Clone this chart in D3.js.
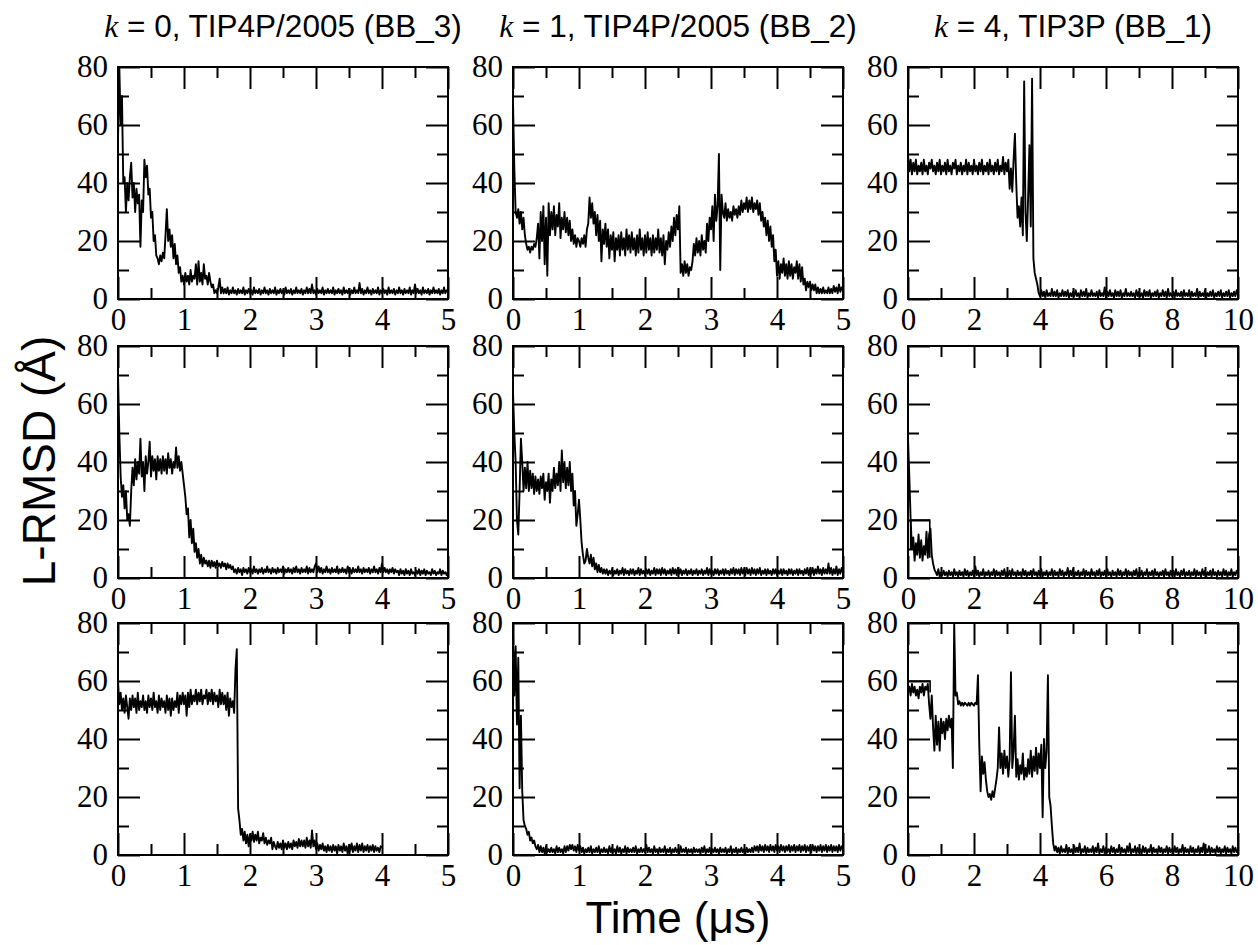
<!DOCTYPE html>
<html><head><meta charset="utf-8">
<script src="https://cdn.jsdelivr.net/npm/d3@7"></script>
<style>body{margin:0;background:#fff}</style>
</head><body>
<svg id="chart" width="1258" height="945"></svg>
<script>
// ---- column headers / axes ----
const colK = ["0", "1", "4"];
const colModel = [", TIP4P/2005 (BB_3)", ", TIP4P/2005 (BB_2)", ", TIP3P (BB_1)"];
const colTmax = [5, 5, 10];
const colDt = [0.02, 0.02, 0.04];           // sampling step of each column's series (µs)
const xTicks5 = [0, 1, 2, 3, 4, 5];
const xMinor5 = [0.5, 1.5, 2.5, 3.5, 4.5];
const xTicks10 = [0, 2, 4, 6, 8, 10];
const xMinor10 = [1, 3, 5, 7, 9];
const yTicks = [0, 20, 40, 60, 80];
const yMinor = [10, 30, 50, 70];
const yLabel = "L-RMSD (Å)";
const xLabel = "Time (μs)";

// ---- L-RMSD series (Å), row r, column c ----
const r1c1 = [
55,80,60,70,40,42,30,40,34,42, 47,35,40,30,38,33,36,18,34,30, 48,42,46,36,38,28,30,20,22,15, 14,12,15,13,16,14,22,31,20,24,
18,22,14,19,12,15,9,11,6,8, 5,9,6,8,5,10,6,8,7,12, 5,13,6,9,5,12,7,8,5,9, 6,4,5,2,3,2,4,7,2,4,
2,3.5,2,4,1.5,3,2,4,2,3, 1.5,3.5,2,3,2,4,1.5,3,2,3.5, 2,3,1.5,4,2,3,2,3.5,1.5,3, 2,4,2,3,1.5,3.5,2,3,2,4,
1.5,3,2,3.5,2,3,1.5,4,2,3, 2,3.5,1.5,3,2,4,2,3,2,3.5, 1.5,3,2,4,2,3.5,2,5,2,3, 1.5,3.5,2,3,2,4,1.5,3,2,3.5,
2,3,2,4,1.5,3,2,3.5,2,3, 1.5,4,2,3,2,3.5,1.5,3,2,4, 2,3,2,5.5,2,3.5,1.5,3,2,4, 2,3,1.5,3.5,2,3,2,4,1.5,3,
2,3.5,2,3,1.5,4,2,3,2,3.5, 1.5,3,2,4,2,3,1.5,3.5,2,3, 2,4,1.5,3,2,5,2,3.5,2,3, 1.5,4,2,3,2,3.5,1.5,3,2,4,
2,3,2,3.5,1.5,3,2,4,2,3, 3];
const r1c2 = [
68,45,30,28,31,26,30,24,28,22, 19,17,18,16,18,17,19,18,21,26, 14,30,20,32,12,28,8,33,22,30, 24,32,22,29,25,33,21,28,24,30,
23,28,22,27,20,24,19,22,18,21, 20,18,21,19,22,18,24,26,35,28, 33,26,30,22,29,20,27,13,24,19, 26,18,24,14,22,17,23,13,21,17,
22,15,23,17,21,15,24,17,22,16, 23,17,21,15,22,16,24,17,21,15, 22,16,23,17,21,15,22,16,21,17, 24,16,21,15,22,12,20,17,23,18,
25,20,28,22,29,24,32,9,12,8, 13,9,12,8,11,10,13,19,15,21, 16,20,15,22,17,20,16,26,20,28, 24,32,20,36,27,32,50,10,36,30,
28,33,27,31,28,30,27,32,29,31, 28,32,29,34,30,33,31,35,30,34, 31,35,30,33,31,34,29,33,27,30, 25,28,22,27,20,25,18,22,13,17,
8,13,7,12,9,14,8,12,7,13, 8,12,7,11,9,13,7,12,6,11, 5,7,3,6,4,6,3,5,3,5, 2,4,2,3.5,2,4,2,3,2,4,
2,3.5,2,4.5,2.5,4,2,5,2.5,4, 3];
const r1c3 = [
50,44,48,43,47,44,48,43,46,44, 47,43,48,44,46,43,47,45,48,44, 46,43,47,44,48,43,46,44,47,43, 48,44,46,43,47,45,48,43,46,44,
47,43,46,44,48,43,47,44,46,43, 48,44,46,43,47,44,48,43,46,44, 47,43,48,44,46,43,47,44,48,43, 46,44,49,43,47,44,48,38,45,37,
48,57,40,28,32,25,35,22,75,30, 20,35,53,25,76,14,9,7,5,2, 1,3,1,2.5,0.5,3,1,2,1,3.5, 1,2.5,1,3,0.5,2,1,3,1,2.5,
1,3,0.5,2,1,2.5,1,3,1,2, 0.5,3,1,2.5,1,3.5,0.5,2,1,3, 1,2,1,2.5,0.5,3,1,2,1,4, 0.5,2.5,1,3,1,2,0.5,3,1,2.5,
1,3,0.5,2,1,3.5,1,2,1,2.5, 1,2,0.5,3,1,2.5,1,2,0.5,3, 1,2.5,1,3,0.5,2,1,2.5,1,3, 0.5,2,1,3,1,2.5,0.5,3.5,1,2,
1,2.5,0.5,3,1,2,1,2.5,0.5,3, 1,2,1,3,0.5,2.5,1,2,1,3.5, 0.5,2.5,1,2,1,3,0.5,2,1,2.5, 1,3,0.5,2,1,2.5,1,3,0.5,2,
1,2.5,1,3,0.5,2,1,2.5,1,3, 1.5];
const r2c1 = [
70,50,35,28,32,24,30,20,22,18, 30,38,32,41,34,40,36,48,35,40, 30,42,36,40,47,35,42,37,41,34, 42,37,41,36,42,37,41,36,43,38,
41,36,40,38,45,38,42,37,40,36, 32,28,22,24,14,20,12,17,9,12, 7,10,5,8,4,7,5,6,4,6, 3.5,6,4,5.5,3.5,6,4,5,3.5,5.5,
4,5,3,5,3.5,4.5,3,4,2,3, 1.5,3.5,2,3,1,3.5,2,3,1.5,3.5, 2,3,1.5,4,2,3,1.5,3,2,3.5, 1.5,3,2,4,2,3,1.5,3.5,2,3,
1.5,3.5,2,3,2,4,1.5,3,2,3.5, 2,3,1.5,3.5,2,4,2,3,1.5,3.5, 2,3,2,4,1.5,3.5,2,3,2,4, 5,2,4,2,3.5,1.5,3,2,4,2,
3,1.5,3.5,2,3,2,4,1.5,3,2, 3.5,2,3,1.5,4,2,3,1.5,3.5,2, 3,2,4,2,3,1.5,3.5,2,3,2, 3.5,1.5,3,2,4,2,3,1.5,3.5,2,
5,2,3.5,2,3,1.5,3,2,3.5,1.5, 3,2,2.5,1,3,1.5,2.5,1,3,1.5, 2.5,1,3,1.5,2,1,2.5,1.5,3,1, 2.5,1.5,3,1,2.5,1.5,2,1,3,1.5,
2.5,1,2,1.5,3,1,2.5,1.5,2,1, 2];
const r2c2 = [
64,50,40,20,15,30,48,40,30,38, 31,40,30,37,31,36,29,35,30,34, 29,35,31,36,27,33,30,36,26,34, 30,38,31,36,32,40,30,44,33,40,
31,38,32,40,30,36,25,30,18,22, 27,20,12,8,5,6,10,7,5,8, 4,7,3,5,2,4.5,2,3.5,1.5,3, 1.5,3,1,2.5,1.5,3,1,2.5,1.5,3,
1,2.5,1.5,3.5,1,3,1.5,2.5,1,3, 1.5,3,1,2.5,1.5,3.5,1,3,1.5,2.5, 1,3,1.5,3,1,2.5,1.5,3.5,1,3, 1.5,3,1,3.5,1.5,3,1,2.5,1.5,3,
1,3.5,1.5,3,1,3.5,1.5,3,1,2.5, 1.5,3,1,2.5,1.5,3,1,2.5,1.5,3, 1,2.5,1.5,3,1,2.5,1.5,3.5,1,3, 1.5,2.5,1,3,1.5,3,1,2.5,1.5,3,
1,3,1.5,2.5,1,3,1.5,3.5,1,3, 1.5,3,1,3.5,1.5,3,1,3.5,1.5,3, 1,3.5,1.5,3,1,3,1.5,3.5,1,2.5, 1.5,3,1,3,1.5,2.5,1,3,1.5,3,
1,2.5,1.5,3,1,3,1.5,2.5,1,3, 1.5,3,1,2.5,1.5,3,1,3,1.5,2.5, 1,3,1.5,3.5,1,3,1.5,3.5,1,3, 1.5,4,1.5,3,1,3.5,1.5,3,1.5,5,
1.5,3.5,1,3,1.5,4,1,3,1.5,3.5, 2];
const r2c3 = [
48,35,20,10,14,6,12,8,15,7, 13,6,11,8,16,7,15,17,8,5, 3,2,1,3,0.5,2,1,2.5,1,2, 0.5,2.5,1,2,0.5,3,1,2,0.5,2.5,
1,2,0.5,3,1,2.5,0.5,2,1,2.5, 0.5,4,1,2.5,0.5,2,1,3,0.5,2, 1,2.5,0.5,2,1,3,0.5,2.5,1,2, 0.5,2.5,1,3,0.5,2,1,2.5,0.5,3,
1,2,0.5,2.5,1,2,0.5,3,1,2.5, 0.5,2,1,2.5,0.5,3,1,2,0.5,2.5, 1,3,0.5,2,1,2.5,0.5,2,1,3, 0.5,2.5,1,2,0.5,3,1,2.5,0.5,2,
1,3.5,0.5,2.5,1,3,0.5,2,1,2.5, 0.5,2,1,3,0.5,2.5,1,2,0.5,3, 1,2,0.5,2.5,1,3,0.5,2,1,2.5, 0.5,3,1,2,0.5,2.5,1,2,0.5,3,
1,2.5,0.5,2,1,3,0.5,2.5,1,2, 0.5,2.5,1,3,0.5,2,1,2.5,0.5,2, 1,3,0.5,2,1,2.5,0.5,3,1,2, 0.5,2,1,2.5,0.5,3,1,2,0.5,2.5,
1,2.5,0.5,3,1,2,0.5,2.5,1,3, 0.5,2,1,2.5,0.5,2,1,3,0.5,2.5, 1,2,0.5,3,1,2.5,0.5,2,1,2.5, 0.5,3,1,2,0.5,2.5,1,2,0.5,3,
1,2.5,0.5,2,1,3,0.5,2,1,2.5, 1.5];
const r3c1 = [
60,52,56,50,54,49,55,51,47,54, 50,55,51,54,49,56,50,53,51,55, 50,53,49,55,51,54,50,56,51,53, 49,55,50,54,51,53,49,55,50,54,
48,54,50,53,51,56,49,55,52,56, 52,55,48,56,51,57,52,55,53,57, 52,56,53,57,52,55,54,57,52,56, 53,57,52,56,53,55,51,57,52,56,
52,55,50,56,48,54,51,53,49,64, 71,16,12,7,9,5,8,4,7,3, 7,5,8,4.5,7,5,8,4,6,5, 7.5,4,6,3.5,5,4,6,2,4.5,3,
2,4.5,2.5,4,2,5,2.5,4,2,4.5, 2.5,4,2,5,3,4.5,2.5,5.5,3,5, 3,5,2.5,6,3,5,2.5,8.5,3,5, 2,4,1.5,3.5,2,4,1.5,3,1,3.5,
1.5,3,1,3.5,1.5,3,0.5,3.5,1.5,3, 1,4,1.5,3,0.5,3.5,1.5,4,1,3, 1.5,4,1,3.5,1.5,4,1,3,1.5,3.5, 1,3,1.5,3.5,1,3,1.5,2.5,1,3,
2.5];
const r3c2 = [
77,55,72,45,68,23,48,22,12,10, 9,7,8,5,6,4,5,3,2,3.5, 1,3,1,2.5,0.5,3,1,2,1,2.5, 1,2,0.5,3,1,2.5,1,2,0.5,3,
1,3,1.5,3.5,2,3.5,1.5,3,1,3.5, 1.5,3,1,2.5,0.5,2,1,2.5,1,3, 0.5,2,1,2.5,1,3,0.5,2,1,2.5, 1,2,0.5,3,1,2.5,1,2,0.5,3,
1,2.5,0.5,2,1,3,0.5,2.5,1,2, 1,2.5,1,3,0.5,2,1,2.5,1,2, 1,3.5,1,2.5,1,2,0.5,3,1,2, 0.5,2.5,1,2,1,3,0.5,2,1,2.5,
0.5,2,1,2.5,1,2,0.5,3,1,2, 1,2.5,0.5,2,1,2,0.5,2.5,1,2, 1,2,0.5,2.5,1,3,0.5,2,1,2.5, 0.5,2,1,2.5,1,2,0.5,2.5,1,2,
1,2.5,0.5,2,1,3,0.5,2,1,2.5, 0.5,2,1,2.5,1,2,0.5,2.5,1,2, 1,2.5,1,3,1.5,3,1,3.5,1.5,3, 1,3.5,1.5,3,1,3.5,1.5,3,1,3.5,
1.5,3,1,3.5,1.5,3,1,3,1.5,3.5, 1,3,1.5,3.5,1,3,1.5,3.5,1,3, 1.5,3.5,1,3,1.5,3,1,3.5,1.5,3, 1,3,1.5,3.5,1,3,1.5,3.5,1,3,
1.5,3.5,1,3,1.5,3,1,3.5,1.5,3, 2.5];
const r3c3 = [
56,58,55,59,56,58,55,57,54,58, 56,59,55,58,57,59,52,47,55,44, 36,48,38,46,36,47,42,46,40,47, 43,48,44,47,30,80,55,56,52,53,
51.5,52.5,51.5,52.5,52,51.5,52.5,51.5,52.5,52, 51.5,52.5,52,62,38,22,34,28,32,26, 22,20,21,19,22,20,23,26,30,44, 30,35,28,36,30,34,27,33,63,30,
36,48,27,33,26,31,28,35,26,30, 27,33,28,36,27,34,29,37,28,35, 30,38,13,40,30,36,62,20,17,10, 4,1.5,3,1,2.5,0.5,3,1,2,1,
3.5,0.5,2.5,1,2,0.5,3,1,2.5,1, 4,0.5,2,1,3,0.5,2.5,1,2,1, 3,0.5,2.5,1,4,0.5,2,1,3,0.5, 2.5,1,2,0.5,3,1,2.5,0.5,2,1,
3.5,0.5,2.5,1,2,0.5,3,1,4,0.5, 2,1,3,0.5,2.5,1,2,0.5,3,1, 2.5,0.5,2,1,3.5,0.5,2.5,1,2,0.5, 3,1,2.5,0.5,2,1,3,0.5,2.5,1,
2,0.5,3,1,2.5,0.5,2,1,3.5,0.5, 2.5,1,2,0.5,3,1,2.5,0.5,2,1, 3,0.5,2.5,1,4,0.5,2,1,3,0.5, 2.5,1,2,0.5,3,1,2.5,0.5,2,1,
3,0.5,2.5,1,2,0.5,3,1,2.5,1, 2];
// thin outline segments drawn in two panels of the k = 4 column: [time, L-RMSD]
const r2c3Box = [[0.08, 10], [0.08, 20], [0.66, 20], [0.66, 7]];
const r3c3Box = [[0, 60], [0.67, 60], [0.67, 56]];

const grid = [[r1c1, r1c2, r1c3], [r2c1, r2c2, r2c3], [r3c1, r3c2, r3c3]];
const boxes = {"1-2": r2c3Box, "2-2": r3c3Box};

// ---- layout ----
const colLeft = [118, 513, 908];
const rowTop = [67, 346, 623];
const W = 330, H = 232;
const serif = "'Liberation Serif','Times New Roman',serif";
const sans = "'Liberation Sans',Arial,Helvetica,sans-serif";

const svg = d3.select("#chart");

colK.forEach((k, c) => {
  const t = svg.append("text")
    .attr("x", colLeft[c] + W / 2).attr("y", 37)
    .attr("text-anchor", "middle")
    .attr("font-family", sans).attr("font-size", 31.5).attr("fill", "#000");
  t.append("tspan").attr("font-family", serif).attr("font-style", "italic").text("k");
  t.append("tspan").text(" = " + k + colModel[c]);
});

grid.forEach((row, r) => {
  row.forEach((vals, c) => {
    const tmax = colTmax[c], dt = colDt[c];
    const g = svg.append("g").attr("transform", `translate(${colLeft[c]},${rowTop[r]})`);
    const x = d3.scaleLinear().domain([0, tmax]).range([0, W]);
    const y = d3.scaleLinear().domain([0, 80]).range([H, 0]);
    const major = tmax === 10 ? xTicks10 : xTicks5;
    const minor = tmax === 10 ? xMinor10 : xMinor5;

    const clipId = `clip-${r}-${c}`;
    g.append("clipPath").attr("id", clipId).append("rect").attr("width", W).attr("height", H);

    const data = vals.map((v, i) => [i * dt, v]);
    const line = d3.line().x(d => x(d[0])).y(d => y(d[1]));
    g.append("path").datum(data).attr("clip-path", `url(#${clipId})`)
      .attr("d", line).attr("fill", "none").attr("stroke", "#000")
      .attr("stroke-width", 1.9).attr("stroke-linejoin", "round");
    const box = boxes[`${r}-${c}`];
    if (box) {
      g.append("path").datum(box).attr("d", line).attr("fill", "none")
        .attr("stroke", "#000").attr("stroke-width", 1.6);
    }

    const styleAxis = sel => {
      sel.select(".domain").remove();
      sel.selectAll(".tick line").attr("stroke", "#000").attr("stroke-width", 2);
      sel.selectAll(".tick text").attr("font-family", serif).attr("font-size", 31).attr("fill", "#000");
    };
    g.append("g").attr("transform", `translate(0,${H})`)
      .call(d3.axisBottom(x).tickValues(major).tickSize(-22).tickPadding(9).tickFormat(d3.format("d"))).call(styleAxis);
    g.append("g").attr("transform", `translate(0,${H})`)
      .call(d3.axisBottom(x).tickValues(minor).tickSize(-11).tickFormat("")).call(styleAxis);
    g.append("g").call(d3.axisTop(x).tickValues(major).tickSize(-22).tickFormat("")).call(styleAxis);
    g.append("g").call(d3.axisTop(x).tickValues(minor).tickSize(-11).tickFormat("")).call(styleAxis);
    g.append("g").call(d3.axisLeft(y).tickValues(yTicks).tickSize(-22).tickPadding(10)).call(styleAxis);
    g.append("g").call(d3.axisLeft(y).tickValues(yMinor).tickSize(-11).tickFormat("")).call(styleAxis);
    g.append("g").attr("transform", `translate(${W},0)`)
      .call(d3.axisRight(y).tickValues(yTicks).tickSize(-22).tickFormat("")).call(styleAxis);
    g.append("g").attr("transform", `translate(${W},0)`)
      .call(d3.axisRight(y).tickValues(yMinor).tickSize(-11).tickFormat("")).call(styleAxis);

    g.append("rect").attr("width", W).attr("height", H)
      .attr("fill", "none").attr("stroke", "#000").attr("stroke-width", 2);
  });
});

svg.append("text").attr("transform", "translate(55,461) rotate(-90)")
  .attr("text-anchor", "middle").attr("font-family", sans).attr("font-size", 46)
  .attr("fill", "#000").text(yLabel);
svg.append("text").attr("x", colLeft[1] + W / 2).attr("y", 933)
  .attr("text-anchor", "middle").attr("font-family", sans).attr("font-size", 44)
  .attr("fill", "#000").text(xLabel);
</script>
</body></html>
